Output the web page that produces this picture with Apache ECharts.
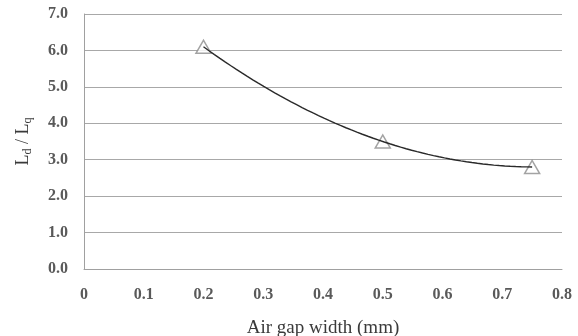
<!DOCTYPE html>
<html><head><meta charset="utf-8">
<script src="https://cdn.jsdelivr.net/npm/echarts@6/dist/echarts.min.js"></script>
<style>html,body{margin:0;padding:0;background:#fff}#c{width:578px;height:336px}</style>
</head><body><div id="c"></div>
<script>
// Data
var airGap = [0.2, 0.5, 0.75];
var ratio = [6.1, 3.5, 2.8];
var xTicks = ['0', '0.1', '0.2', '0.3', '0.4', '0.5', '0.6', '0.7', '0.8'];
var yTicks = ['0.0', '1.0', '2.0', '3.0', '4.0', '5.0', '6.0', '7.0'];

// Order-2 polynomial trendline (least squares fit of the data, as in the original)
function polyFit2(xs, ys) {
  var n = xs.length, S = [0,0,0,0,0], T = [0,0,0];
  for (var i = 0; i < n; i++) {
    var p = 1;
    for (var k = 0; k < 5; k++) { S[k] += p; if (k < 3) T[k] += p * ys[i]; p *= xs[i]; }
  }
  var A = [[S[0],S[1],S[2],T[0]],[S[1],S[2],S[3],T[1]],[S[2],S[3],S[4],T[2]]];
  for (var c = 0; c < 3; c++) {
    for (var r = c + 1; r < 3; r++) {
      var f = A[r][c] / A[c][c];
      for (var j = c; j < 4; j++) A[r][j] -= f * A[c][j];
    }
  }
  var coef = [0,0,0];
  for (var r2 = 2; r2 >= 0; r2--) {
    var s = A[r2][3];
    for (var j2 = r2 + 1; j2 < 3; j2++) s -= A[r2][j2] * coef[j2];
    coef[r2] = s / A[r2][r2];
  }
  return coef;
}
var cf = polyFit2(airGap, ratio);
var trend = [];
var x0 = airGap[0], x1 = airGap[airGap.length - 1];
for (var i = 0; i <= 60; i++) {
  var x = x0 + (x1 - x0) * i / 60;
  trend.push([x, cf[0] + cf[1] * x + cf[2] * x * x]);
}

var font = 'Liberation Serif';
var chart = echarts.init(document.getElementById('c'), null, {renderer: 'canvas'});
chart.setOption({
  animation: false,
  grid: {left: 84, right: 16, top: 14, bottom: 67, containLabel: false, outerBoundsMode: 'none'},
  xAxis: {
    type: 'value', min: 0, max: 0.8, interval: 0.1,
    axisLine: {show: true, lineStyle: {color: '#a0a0a0', width: 1}},
    axisTick: {show: false},
    splitLine: {show: false},
    axisLabel: {
      margin: 18, color: '#595959', fontFamily: font, fontSize: 16, fontWeight: 'bold',
      formatter: function (v) { return xTicks[Math.round(v * 10)]; }
    },
    name: 'Air gap width (mm)', nameLocation: 'middle', nameGap: 50,
    nameTextStyle: {color: '#3a3a3a', fontFamily: font, fontSize: 19}
  },
  yAxis: {
    type: 'value', min: 0, max: 7, interval: 1,
    axisLine: {show: true, lineStyle: {color: '#a0a0a0', width: 1}},
    axisTick: {show: false},
    splitLine: {show: true, lineStyle: {color: '#a8a8a8', width: 1}},
    axisLabel: {
      margin: 16, color: '#595959', fontFamily: font, fontSize: 16, fontWeight: 'bold',
      formatter: function (v) { return yTicks[Math.round(v)]; }
    },
    name: '{l|L}{s|d}{l| / L}{s|q}', nameLocation: 'middle', nameGap: 50,
    nameTextStyle: {
      color: '#3a3a3a', fontFamily: font, fontSize: 18,
      rich: {
        l: {fontFamily: font, fontSize: 18, color: '#3a3a3a'},
        s: {fontFamily: font, fontSize: 12, color: '#3a3a3a', padding: [9, 0, 0, 0]}
      }
    }
  },
  series: [
    {
      type: 'scatter', data: airGap.map(function (x, i) { return [x, ratio[i]]; }),
      symbol: 'triangle', symbolSize: [15, 13],
      itemStyle: {color: '#ffffff', borderColor: '#8c8c8c', borderWidth: 1.5},
      z: 2
    },
    {
      type: 'line', data: trend, showSymbol: false, smooth: false,
      lineStyle: {color: '#2a2a2a', width: 1.4},
      z: 3
    }
  ]
});
</script>
</body></html>
